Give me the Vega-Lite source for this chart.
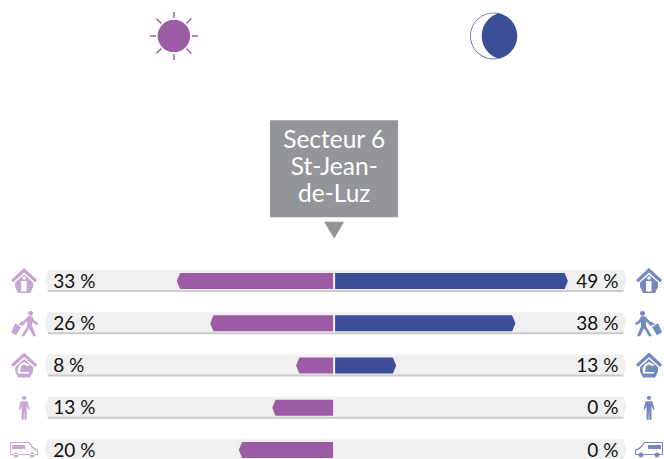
{"$schema":"https://vega.github.io/schema/vega-lite/v6.json","width":664,"height":459,"padding":0,"autosize":{"type":"none"},"background":"white","config":{"view":{"stroke":null}},
"datasets":{"rows":[
{"row":1,"categorie":"Domicile","period":"jour","value":33,"signed":-33,"label":"33 %","picto":"domicile"},
{"row":1,"categorie":"Domicile","period":"nuit","value":49,"signed":49,"label":"49 %","picto":"domicile"},
{"row":2,"categorie":"Touristes","period":"jour","value":26,"signed":-26,"label":"26 %","picto":"touriste_j"},
{"row":2,"categorie":"Touristes","period":"nuit","value":38,"signed":38,"label":"38 %","picto":"touriste_n"},
{"row":3,"categorie":"Hebergement","period":"jour","value":8,"signed":-8,"label":"8 %","picto":"hebergement"},
{"row":3,"categorie":"Hebergement","period":"nuit","value":13,"signed":13,"label":"13 %","picto":"hebergement"},
{"row":4,"categorie":"Travail","period":"jour","value":13,"signed":-13,"label":"13 %","picto":"travail"},
{"row":4,"categorie":"Travail","period":"nuit","value":0,"signed":0,"label":"0 %","picto":"travail"},
{"row":5,"categorie":"Camping-car","period":"jour","value":20,"signed":-20,"label":"20 %","picto":"van_j"},
{"row":5,"categorie":"Camping-car","period":"nuit","value":0,"signed":0,"label":"0 %","picto":"van_n"}]},
"data":{"name":"rows"},
"encoding":{"y":{"field":"row","type":"quantitative","axis":null,"scale":{"domain":[5.21,-5.65],"nice":false,"zero":false,"padding":0}}},
"layer":[
{"transform":[{"filter":"datum.period=='jour'"}],"mark":{"type":"bar","orient":"horizontal","size":20,"yOffset":1,"color":"#cbcbcb"},"encoding":{"x":{"datum":-60.7,"scale":{"domain":[-70.06,69.14],"nice":false,"zero":false,"padding":0},"axis":null},"x2":{"datum":61.3}}},
{"transform":[{"filter":"datum.period=='jour'"}],"mark":{"type":"bar","orient":"horizontal","size":20,"yOffset":-1,"color":"#f0f0f0"},"encoding":{"x":{"datum":-60.7,"axis":null},"x2":{"datum":61.3}}},
{"transform":[{"filter":"datum.period=='jour'"}],"mark":{"type":"point","filled":true,"opacity":1,"size":4,"strokeWidth":0,"color":"white","shape":"M-1,-13L4,-13L0,-1L-1,-1ZM-1,-1L0,-1L4,13L-1,13Z"},"encoding":{"x":{"datum":-60.7,"axis":null}}},
{"transform":[{"filter":"datum.period=='jour'"}],"mark":{"type":"point","filled":true,"opacity":1,"size":4,"strokeWidth":0,"color":"white","shape":"M1,-13L-4,-13L0,-1L1,-1ZM1,-1L0,-1L-4,13L1,13Z"},"encoding":{"x":{"datum":61.3,"axis":null}}},
{"mark":{"type":"bar","orient":"horizontal","size":16},"encoding":{"x":{"field":"signed","type":"quantitative","axis":null},"x2":{"datum":0},"color":{"field":"period","type":"nominal","legend":null,"scale":{"domain":["jour","nuit"],"range":["#9b5ba5","#3c4e98"]}}}},
{"transform":[{"filter":"datum.value>0 && datum.period=='jour'"}],"mark":{"type":"point","filled":true,"opacity":1,"size":4,"strokeWidth":0,"color":"#f0f0f0","shape":"M-0.6,-8.6L3.6,-8.6L0,0L3.6,8.6L-0.6,8.6Z"},"encoding":{"x":{"field":"signed","type":"quantitative","axis":null}}},
{"transform":[{"filter":"datum.value>0 && datum.period=='nuit'"}],"mark":{"type":"point","filled":true,"opacity":1,"size":4,"strokeWidth":0,"color":"#f0f0f0","shape":"M0.6,-8.6L-3.6,-8.6L0,0L-3.6,8.6L0.6,8.6Z"},"encoding":{"x":{"field":"signed","type":"quantitative","axis":null}}},
{"mark":{"type":"bar","orient":"horizontal","size":20,"yOffset":-1,"color":"#f6f2f6"},"encoding":{"x":{"datum":-0.18,"axis":null},"x2":{"datum":0.18}}},
{"transform":[{"filter":"datum.period=='jour'"}],"mark":{"type":"text","align":"left","baseline":"middle","font":"Lato","fontSize":19,"color":"#111111","dy":0.5},"encoding":{"x":{"datum":-58.9,"axis":null},"text":{"field":"label"}}},
{"transform":[{"filter":"datum.period=='nuit'"}],"mark":{"type":"text","align":"right","baseline":"middle","font":"Lato","fontSize":19,"color":"#111111","dy":0.5},"encoding":{"x":{"datum":59.6,"axis":null},"text":{"field":"label"}}},
{"transform":[{"filter":"datum.period=='jour'"}],"mark":{"type":"point","filled":true,"opacity":1,"size":4,"strokeWidth":0,"color":"#c9a5d3"},"encoding":{"x":{"datum":-65,"axis":null},"shape":{"field":"picto","type":"nominal","legend":null,"scale":{"domain":["domicile","touriste_j","touriste_n","hebergement","travail","van_j","van_n"],"range":[
"M0,-13L13,-1L11,1.5L0,-8.5L-11,1.5L-13,-1ZM0,-6.5L9,1.5L9,6L6,12L-6,12L-9,6L-9,1.5ZM-1.7,-3a1.7,1.7 0 1 0 3.4,0a1.7,1.7 0 1 0 -3.4,0ZM-3,0L-3,10.5L2.5,10.5L2.5,0Z",
"M4,-10a2.5,2.5 0 1 1 5,0a2.5,2.5 0 1 1 -5,0ZM4,-7L8,-7L10,-3L14,0L13,2L8,-1L8,3L12,13L9,13L5,5L0,13L-3,13L3,3L3,-2L-2,3L-4,1.5ZM-9,0L-3,4L-8,12L-13,9ZM-6,1L-2,-2L-1,-1L-5,2Z",
"M-9,-10a2.5,2.5 0 1 1 5,0a2.5,2.5 0 1 1 -5,0ZM-4,-7L-8,-7L-10,-3L-14,0L-13,2L-8,-1L-8,3L-12,13L-9,13L-5,5L0,13L3,13L-3,3L-3,-2L2,3L4,1.5ZM9,0L3,4L8,12L13,9ZM6,1L2,-2L1,-1L5,2Z",
"M0,-13L13,-1L11,1.5L0,-8.5L-11,1.5L-13,-1ZM0,-6.5L9,1.5L9,6L6,12L-6,12L-9,6L-9,1.5ZM-6,8L5,8L5,6.5L-4,6.5L-3,0.5L0,-1L3,0.5L6,-0.5L0,-3.5L-4,-1.5L-6.5,3Z",
"M-2.2,-10a2.2,2.2 0 1 1 4.4,0a2.2,2.2 0 1 1 -4.4,0ZM-3.5,-6.5L3.5,-6.5L5.5,2L4.5,2.5L2.5,-2L2.5,12L0.4,12L0,2L-0.4,12L-2.5,12L-2.5,-2L-4.5,2.5L-5.5,2Z",
"M-14,-8L5,-8L9,-3L14,0L14,5L-14,5ZM-13,-7L-13,4L13,4L13,1L8,-2L4.5,-7ZM-12,-5L1,-5L1,-1L-12,-1ZM-10.5,5a2.5,2.5 0 1 0 5,0a2.5,2.5 0 1 0 -5,0ZM5.5,5a2.5,2.5 0 1 0 5,0a2.5,2.5 0 1 0 -5,0Z",
"M14,-8L-5,-8L-9,-3L-14,0L-14,5L14,5ZM13,-7L13,4L-13,4L-13,1L-8,-2L-4.5,-7ZM12,-5L-1,-5L-1,-1L12,-1ZM-10.5,5a2.5,2.5 0 1 0 5,0a2.5,2.5 0 1 0 -5,0ZM5.5,5a2.5,2.5 0 1 0 5,0a2.5,2.5 0 1 0 -5,0Z"]}}}},
{"transform":[{"filter":"datum.period=='nuit'"}],"mark":{"type":"point","filled":true,"opacity":1,"size":4,"strokeWidth":0,"color":"#7488c2"},"encoding":{"x":{"datum":66,"axis":null},"shape":{"field":"picto","type":"nominal","legend":null}}},
{"data":{"values":[{"row":-1.66}]},"mark":{"type":"bar","orient":"horizontal","size":97,"color":"#939598"},"encoding":{"x":{"datum":-13.46,"axis":null},"x2":{"datum":13.37}}},
{"data":{"values":[{"row":-2.31,"t":"Secteur 6"},{"row":-1.67,"t":"St-Jean-"},{"row":-1.04,"t":"de-Luz"}]},"mark":{"type":"text","align":"center","baseline":"middle","font":"Lato","fontSize":24.5,"color":"white"},"encoding":{"x":{"datum":0,"axis":null},"text":{"field":"t"}}},
{"data":{"values":[{"row":-0.2}]},"mark":{"type":"point","filled":true,"opacity":1,"size":4,"strokeWidth":0,"color":"#939598","shape":"M-10,-8.5L10,-8.5L0,8.5Z"},"encoding":{"x":{"datum":0,"axis":null}}},
{"data":{"values":[{"row":-4.8,"periode":"jour"}]},"mark":{"type":"point","filled":true,"opacity":1,"size":4,"strokeWidth":0,"color":"#9b5ba5","shape":"M-16.3,0A16.3,16.3 0 1 1 16.3,0A16.3,16.3 0 1 1 -16.3,0ZM-0.7,-24L0.7,-24L0.7,-18L-0.7,-18ZM-0.7,18L0.7,18L0.7,24L-0.7,24ZM-24,-0.7L-18,-0.7L-18,0.7L-24,0.7ZM18,-0.7L24,-0.7L24,0.7L18,0.7ZM12,-13L17,-18L18,-17L13,-12ZM-13,12L-12,13L-17,18L-18,17ZM-18,-17L-17,-18L-12,-13L-13,-12ZM12,13L13,12L18,17L17,18Z"},"encoding":{"x":{"datum":-33.6,"axis":null}}},
{"data":{"values":[{"row":-4.8,"periode":"nuit"}]},"mark":{"type":"point","filled":true,"opacity":1,"size":4,"strokeWidth":0,"color":"#3c4e98","shape":"M5,-22.6A23,23 0 0 1 5,22.6A23.6,23.6 0 0 1 5,-22.6ZM-23.3,0A23.3,23.3 0 1 1 23.3,0A23.3,23.3 0 1 1 -23.3,0ZM-22.6,0A22.6,22.6 0 1 0 22.6,0A22.6,22.6 0 1 0 -22.6,0Z"},"encoding":{"x":{"datum":33.4,"axis":null}}}
]}
